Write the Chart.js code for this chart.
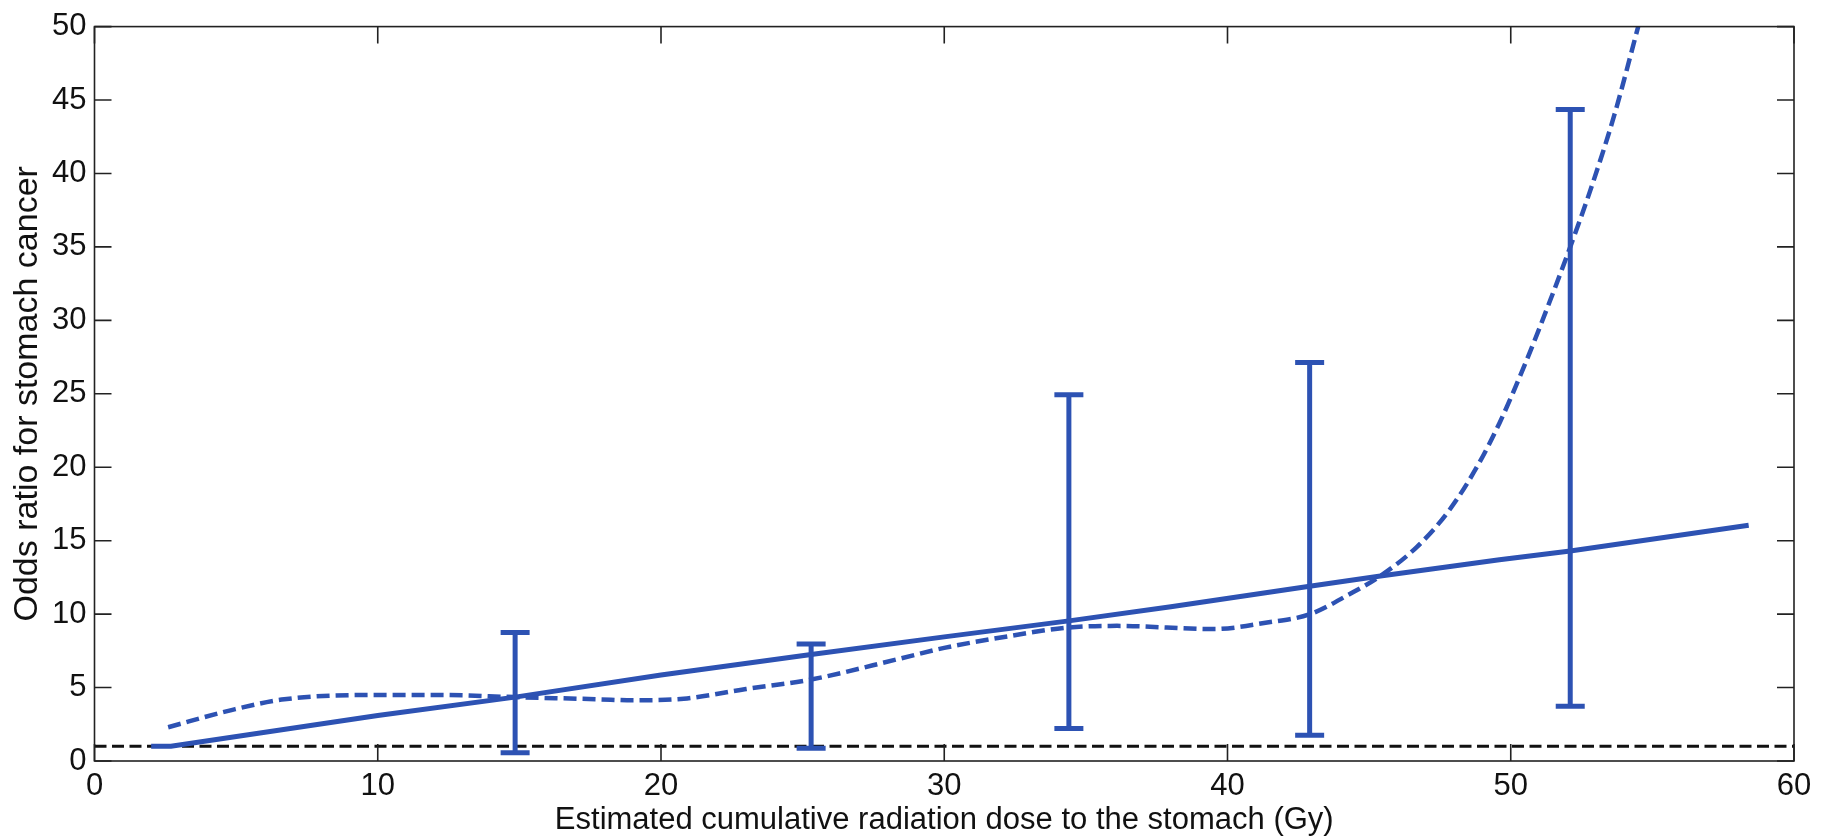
<!DOCTYPE html>
<html>
<head>
<meta charset="utf-8">
<script src="https://cdn.jsdelivr.net/npm/chart.js@4"></script>
<style>
  html, body { margin: 0; padding: 0; background: #fff; }
  #wrap { width: 1825px; height: 839px; }
</style>
</head>
<body>
<div id="wrap"><canvas id="c" width="1825" height="839"></canvas></div>
<script>
// ---- Data ----
const xTitle = 'Estimated cumulative radiation dose to the stomach (Gy)';
const yTitle = 'Odds ratio for stomach cancer';
const xTicks = [0, 10, 20, 30, 40, 50, 60];
const yTicks = [0, 5, 10, 15, 20, 25, 30, 35, 40, 45, 50];

// linear (solid) fit
const linX = [2.0, 2.7, 10, 14.85, 20, 25.3, 30, 34.4, 38, 42.9, 45.4, 49.6, 52.1, 58.4];
const linY = [1.0, 1.0, 3.1, 4.35, 5.85, 7.25, 8.45, 9.54, 10.5, 11.9, 12.6, 13.7, 14.3, 16.05];

// spline (dashed) fit
const splX = [2.6, 4.8, 6.7, 10, 12.2, 14.85, 17.8, 19, 20.8, 23, 25.3, 28.4, 30, 32, 34.4, 36.1, 39.5, 41.4, 42.9, 44.3, 45.4, 46.7, 47.8, 48.8, 49.6, 50.5, 51.4, 52.1, 52.8, 53.66, 54.5];
const splY = [2.3, 3.45, 4.2, 4.5, 4.5, 4.35, 4.2, 4.13, 4.24, 4.9, 5.55, 6.95, 7.7, 8.41, 9.09, 9.2, 8.98, 9.43, 9.99, 11.35, 12.6, 14.6, 17.0, 20.0, 23.0, 27.0, 31.4, 35.0, 38.8, 44.0, 50.0];

// categorical odds ratios: 95% CI error bars
const errX = [14.85, 25.3, 34.4, 42.9, 52.1];
const errLow = [0.56, 0.86, 2.21, 1.76, 3.72];
const errHigh = [8.75, 7.96, 24.94, 27.13, 44.36];

// reference line OR = 1
const refY = 1.0;
const xMin = 0, xMax = 60, yMin = 0, yMax = 50;

// ---- Styles ----
const BLUE = '#2d52b3';
const FONT = "'Liberation Sans', Arial, 'DejaVu Sans', sans-serif";
const FS = 31;
const FS_YT = 34;

const pts = (xs, ys) => xs.map((x, i) => ({ x, y: ys[i] }));

const datasets = [];
datasets.push({
  label: 'ref', data: [{ x: xMin, y: refY }, { x: xMax, y: refY }],
  showLine: true, borderColor: '#111', borderWidth: 3, borderDash: [12, 5.5],
  pointRadius: 0, order: 4
});
datasets.push({
  label: 'spline', data: pts(splX, splY), showLine: true,
  borderColor: BLUE, borderWidth: 4.5, borderDash: [13, 6],
  cubicInterpolationMode: 'monotone', pointRadius: 0, order: 3
});
datasets.push({
  label: 'linear', data: pts(linX, linY), showLine: true,
  borderColor: BLUE, borderWidth: 5, pointRadius: 0, order: 2,
  borderCapStyle: 'butt'
});
errX.forEach((x, i) => {
  datasets.push({
    label: 'ci' + i, data: [{ x, y: errLow[i] }, { x, y: errHigh[i] }],
    showLine: true, borderColor: BLUE, borderWidth: 5,
    pointStyle: 'line', pointRadius: 14.5, pointBorderWidth: 5,
    pointBorderColor: BLUE, pointBackgroundColor: BLUE,
    pointHoverRadius: 14.5, order: 1
  });
});

// frame + inward ticks on all four sides (MATLAB style)
const framePlugin = {
  id: 'frame',
  afterDatasetsDraw(chart) {
    const { ctx, chartArea: a, scales } = chart;
    const tl = 17;
    ctx.save();
    ctx.strokeStyle = '#222';
    ctx.lineWidth = 1.6;
    ctx.strokeRect(a.left, a.top, a.right - a.left, a.bottom - a.top);
    ctx.beginPath();
    scales.x.ticks.forEach(t => {
      const px = scales.x.getPixelForValue(t.value);
      ctx.moveTo(px, a.bottom); ctx.lineTo(px, a.bottom - tl);
      ctx.moveTo(px, a.top); ctx.lineTo(px, a.top + tl);
    });
    scales.y.ticks.forEach(t => {
      const py = scales.y.getPixelForValue(t.value);
      ctx.moveTo(a.left, py); ctx.lineTo(a.left + tl, py);
      ctx.moveTo(a.right, py); ctx.lineTo(a.right - tl, py);
    });
    ctx.stroke();
    ctx.restore();
  }
};

new Chart(document.getElementById('c'), {
  type: 'scatter',
  data: { datasets },
  options: {
    responsive: false,
    devicePixelRatio: 1,
    animation: false,
    events: [],
    layout: { padding: { top: 21, right: 31, left: 0, bottom: 0 } },
    plugins: { legend: { display: false }, tooltip: { enabled: false } },
    scales: {
      x: {
        type: 'linear', min: xMin, max: xMax,
        afterFit: s => { s.height = 78; },
        afterBuildTicks: s => { s.ticks = xTicks.map(v => ({ value: v })); },
        grid: { display: false, drawTicks: false },
        border: { display: false },
        ticks: { color: '#111', font: { family: FONT, size: FS }, padding: 7, maxRotation: 0, autoSkip: false },
        title: { display: true, text: xTitle, color: '#111', font: { family: FONT, size: FS }, padding: { top: 0, bottom: 0 } }
      },
      y: {
        type: 'linear', min: yMin, max: yMax,
        afterFit: s => { s.width = 94.5; },
        afterBuildTicks: s => { s.ticks = yTicks.map(v => ({ value: v })); },
        grid: { display: false, drawTicks: false },
        border: { display: false },
        ticks: { color: '#111', font: { family: FONT, size: FS }, padding: 8, autoSkip: false },
        title: { display: true, text: yTitle, color: '#111', font: { family: FONT, size: FS_YT }, padding: { top: 7, bottom: 0 } }
      }
    }
  },
  plugins: [framePlugin]
});
</script>
</body>
</html>
